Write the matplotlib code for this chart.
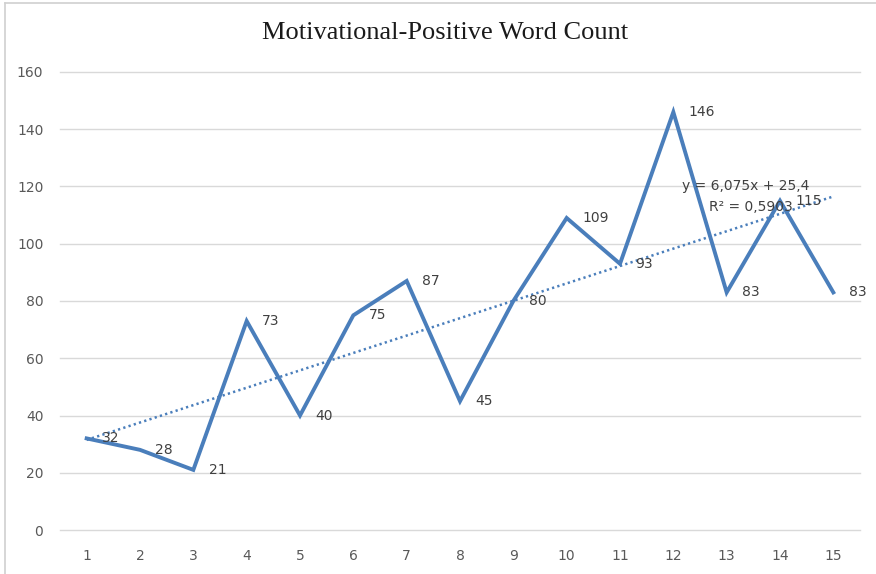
import numpy as np
import matplotlib.pyplot as plt
from matplotlib.lines import Line2D

# word counts per text
texts = list(range(1, 16))
counts = [32, 28, 21, 73, 40, 75, 87, 45, 80, 109, 93, 146, 83, 115, 83]
yticks = [0, 20, 40, 60, 80, 100, 120, 140, 160]

blue = '#4a7ebb'
grey_txt = '#595959'
lab_txt = '#404040'

fig = plt.figure(figsize=(8.76, 5.74), dpi=100)
ax = fig.add_axes([60/876, 1-530/574, 800/876, 458/574])

# linear trendline, same as Excel's
slope, icpt = np.polyfit(texts, counts, 1)
fit = slope*np.array(texts) + icpt
r2 = 1 - np.sum((np.array(counts)-fit)**2)/np.sum((np.array(counts)-np.mean(counts))**2)

ax.plot(texts, counts, color=blue, lw=2.8, solid_joinstyle='miter', zorder=3, clip_on=False)
ax.plot(texts, fit, color=blue, lw=1.8, ls=(0, (0.9, 1.3)), zorder=2)

for x, y in zip(texts, counts):
    ax.annotate(str(y), (x, y), xytext=(11, 0), textcoords='offset points',
                ha='left', va='center', fontsize=10, color=lab_txt, zorder=4)

eq = 'y = {:.3f}x + {:.1f}'.format(slope, icpt).replace('.', ',')
rs = 'R² = {:.4f}'.format(r2).replace('.', ',')
ax.text(13.35, 120.2, eq, ha='center', va='center', fontsize=10, color=lab_txt, zorder=5)
ax.text(13.45, 112.8, rs, ha='center', va='center', fontsize=10, color=lab_txt, zorder=5)

ax.set_xlim(0.5, 15.5)
ax.set_ylim(0, 160)
ax.set_xticks(texts)
ax.set_yticks(yticks)
ax.grid(axis='y', color='#d9d9d9', lw=1)
for g in ax.get_ygridlines():
    g.set_clip_on(False)
ax.set_axisbelow(True)
for s in ax.spines.values():
    s.set_visible(False)
ax.tick_params(length=0, labelsize=10, labelcolor=grey_txt)
ax.tick_params(axis='y', pad=12)
ax.tick_params(axis='x', pad=14)

fig.text(445/876, 1-33/574, 'Motivational-Positive Word Count', ha='center', va='center',
         fontsize=19, family='Liberation Serif', color='#1a1a1a')

# chart-area border, cropped at right and bottom
fig.add_artist(Line2D([5/876, 5/876], [0, 1-3/574], color='#d0d0d0', lw=1.2))
fig.add_artist(Line2D([5/876, 1], [1-3/574, 1-3/574], color='#d0d0d0', lw=1.2))

fig.savefig('out.png', dpi=100)
